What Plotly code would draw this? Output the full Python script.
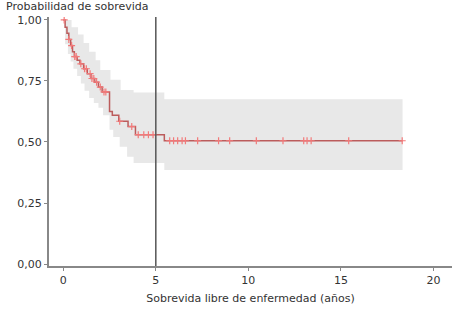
import numpy as np
import plotly.graph_objects as go

# Kaplan-Meier estimate (years, survival probability)
km_time = [0, 0.1, 0.2, 0.3, 0.4, 0.5, 0.6, 0.75, 0.9, 1.1, 1.3, 1.5, 1.7, 1.9, 2.1,
           2.5, 2.65, 3.0, 3.5, 3.9, 5.46, 18.33]
km_surv = [1.0, 0.97, 0.945, 0.92, 0.895, 0.87, 0.85, 0.835, 0.82, 0.80, 0.78, 0.76,
           0.745, 0.725, 0.705, 0.625, 0.61, 0.585, 0.563, 0.53, 0.505, 0.505]

# Confidence band
up_time = [0, 0.45, 0.8, 1.1, 1.4, 1.75, 2.0, 2.55, 3.1, 3.8, 5.46, 18.33]
up_val = [1.0, 0.97, 0.94, 0.905, 0.87, 0.835, 0.795, 0.755, 0.713, 0.703, 0.675, 0.675]
lo_time = [0, 0.1, 0.25, 0.4, 0.55, 0.75, 0.95, 1.15, 1.4, 1.65, 1.9, 2.15, 2.5, 2.7,
           3.05, 3.45, 3.8, 5.46, 18.33]
lo_val = [1.0, 0.9, 0.86, 0.83, 0.8, 0.77, 0.74, 0.71, 0.68, 0.66, 0.64, 0.61, 0.55, 0.52,
          0.48, 0.44, 0.414, 0.385, 0.385]

# Censored observations (years)
censor_time = [0.05, 0.3, 0.45, 0.62, 0.7, 0.95, 1.15, 1.25, 1.45, 1.55, 1.65, 1.8, 2.0,
               2.2, 2.3, 3.05, 3.7, 4.05, 4.35, 4.6, 4.85, 5.75, 5.96, 6.18, 6.42, 6.6,
               7.26, 8.39, 8.99, 10.43, 11.87, 12.99, 13.17, 13.39, 15.42, 18.31]

y_ticks = [0, 0.25, 0.5, 0.75, 1.0]
x_ticks = [0, 5, 10, 15, 20]
ref_time = 5

idx = np.searchsorted(km_time, censor_time, side="right") - 1
censor_surv = [km_surv[i] for i in idx]

fig = go.Figure()
band = "#e8e8e8"
fig.add_trace(go.Scatter(x=up_time, y=up_val, mode="lines", line=dict(shape="hv", width=0, color=band),
                         hoverinfo="skip", showlegend=False))
fig.add_trace(go.Scatter(x=lo_time, y=lo_val, mode="lines", line=dict(shape="hv", width=0, color=band),
                         fill="tonexty", fillcolor=band, hoverinfo="skip", showlegend=False))
fig.add_trace(go.Scatter(x=km_time, y=km_surv, mode="lines", line=dict(shape="hv", width=1.5, color="#bb5c5c"),
                         showlegend=False))
fig.add_trace(go.Scatter(x=censor_time, y=censor_surv, mode="markers",
                         marker=dict(symbol="cross-thin", size=5, line=dict(width=1.2, color="#f27a7a")),
                         showlegend=False))

fig.add_shape(type="line", xref="x", yref="paper", x0=ref_time, x1=ref_time, y0=0, y1=1,
              line=dict(color="#555555", width=1.5))

axis_font = dict(family="DejaVu Sans", size=11, color="#333333")
fig.update_layout(
    width=452, height=316,
    margin=dict(l=49, r=0, t=17, b=50),
    paper_bgcolor="white", plot_bgcolor="white",
    separators=",.",
    font=axis_font,
    xaxis=dict(range=[-0.77, 21.0], tickvals=x_ticks, showgrid=False, zeroline=False,
               showline=True, linecolor="#888888", linewidth=2, ticks="outside", ticklen=3,
               tickcolor="#888888", tickfont=axis_font,
               title=dict(text="Sobrevida libre de enfermedad (años)", font=axis_font, standoff=8)),
    yaxis=dict(range=[-0.008, 1.012], tickvals=y_ticks, tickformat=".2f", showgrid=False,
               zeroline=False, showline=True, linecolor="#888888", linewidth=2, ticks="outside",
               ticklen=3, tickcolor="#888888", tickfont=axis_font),
    annotations=[dict(text="Probabilidad de sobrevida", xref="paper", yref="paper",
                      x=-45/403, y=1, xanchor="left", yanchor="bottom", yshift=2,
                      showarrow=False, font=axis_font)],
)

fig.write_html("out.html")
